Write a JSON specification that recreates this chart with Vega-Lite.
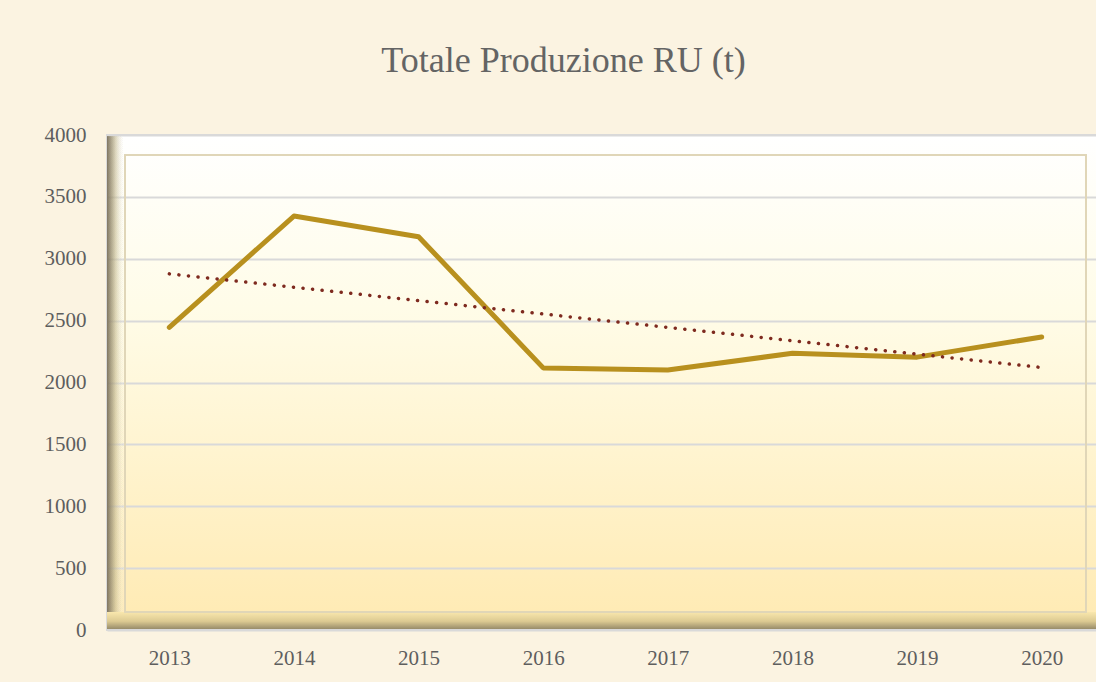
{
  "$schema": "https://vega.github.io/schema/vega-lite/v6.json",
  "autosize": {"type": "none"},
  "width": 997,
  "height": 495,
  "padding": {"left": 107, "top": 135, "right": 0, "bottom": 52},
  "background": "#FBF3E1",
  "config": {
    "view": {
      "stroke": "#D9D9D9",
      "strokeWidth": 2,
      "fill": {"gradient": "linear", "x1": 0, "y1": 0, "x2": 0, "y2": 1,
        "stops": [
          {"offset": 0, "color": "#FFFFFF"},
          {"offset": 0.35, "color": "#FFFCE8"},
          {"offset": 1, "color": "#FFEAB2"}
        ]}
    },
    "font": "Liberation Serif"
  },
  "title": {
    "text": "Totale Produzione RU (t)",
    "font": "Liberation Serif",
    "fontSize": 36,
    "fontWeight": "normal",
    "color": "#646464",
    "anchor": "middle",
    "dx": -42,
    "offset": 44
  },
  "data": {"values": [
    {"year": 2013, "value": 2445},
    {"year": 2014, "value": 3345},
    {"year": 2015, "value": 3178},
    {"year": 2016, "value": 2118},
    {"year": 2017, "value": 2101},
    {"year": 2018, "value": 2236},
    {"year": 2019, "value": 2205},
    {"year": 2020, "value": 2368}
  ]},
  "encoding": {
    "x": {
      "field": "year", "type": "quantitative",
      "scale": {"domain": [2012.5, 2020.5], "nice": false, "zero": false},
      "axis": {
        "values": [2013, 2014, 2015, 2016, 2017, 2018, 2019, 2020],
        "format": "d", "title": null, "grid": false, "domain": false, "ticks": false,
        "labelFont": "Liberation Serif", "labelFontSize": 21, "labelColor": "#5E5E5E",
        "labelPadding": 17
      }
    },
    "y": {
      "field": "value", "type": "quantitative",
      "scale": {"domain": [0, 4000], "nice": false},
      "axis": {
        "values": [0, 500, 1000, 1500, 2000, 2500, 3000, 3500, 4000],
        "format": "d",
        "title": null, "domain": false, "ticks": false,
        "grid": true, "gridColor": "#D9D9D9", "gridWidth": 2,
        "labelFont": "Liberation Serif", "labelFontSize": 21, "labelColor": "#5E5E5E",
        "labelPadding": 21
      }
    }
  },
  "layer": [
    {
      "mark": {"type": "rect",
        "color": {"gradient": "linear", "x1": 0, "y1": 0, "x2": 1, "y2": 0,
          "stops": [
            {"offset": 0, "color": "rgba(120,110,90,0.28)"},
            {"offset": 0.5, "color": "rgba(200,190,150,0.1)"},
            {"offset": 1, "color": "rgba(255,255,255,0)"}
          ]}},
      "encoding": {
        "x": {"datum": 2012.5, "type": "quantitative"},
        "x2": {"datum": 2012.645},
        "y": {"datum": 145, "type": "quantitative"},
        "y2": {"datum": 3990}
      }
    },
    {
      "mark": {"type": "rect",
        "color": {"gradient": "linear", "x1": 0, "y1": 0, "x2": 0, "y2": 1,
          "stops": [
            {"offset": 0, "color": "#F9E7AD"},
            {"offset": 0.55, "color": "#DCCA92"},
            {"offset": 1, "color": "#9A8E6B"}
          ]}},
      "encoding": {
        "x": {"datum": 2012.5, "type": "quantitative"},
        "x2": {"datum": 2020.5},
        "y": {"datum": 10, "type": "quantitative"},
        "y2": {"datum": 145}
      }
    },
    {
      "mark": {"type": "rect", "fill": null, "fillOpacity": 0, "stroke": "#E0D6B8", "strokeWidth": 1.2},
      "encoding": {
        "x": {"datum": 2012.645, "type": "quantitative"},
        "x2": {"datum": 2020.355},
        "y": {"datum": 145, "type": "quantitative"},
        "y2": {"datum": 3840}
      }
    },
    {
      "mark": {"type": "line", "color": "#B8901E", "strokeWidth": 5, "strokeCap": "round", "strokeJoin": "round"}
    },
    {
      "transform": [{"regression": "value", "on": "year"}],
      "mark": {"type": "line", "color": "#7E2A1F", "strokeWidth": 3.5, "strokeCap": "round", "strokeDash": [0.1, 9.5]}
    }
  ]
}
